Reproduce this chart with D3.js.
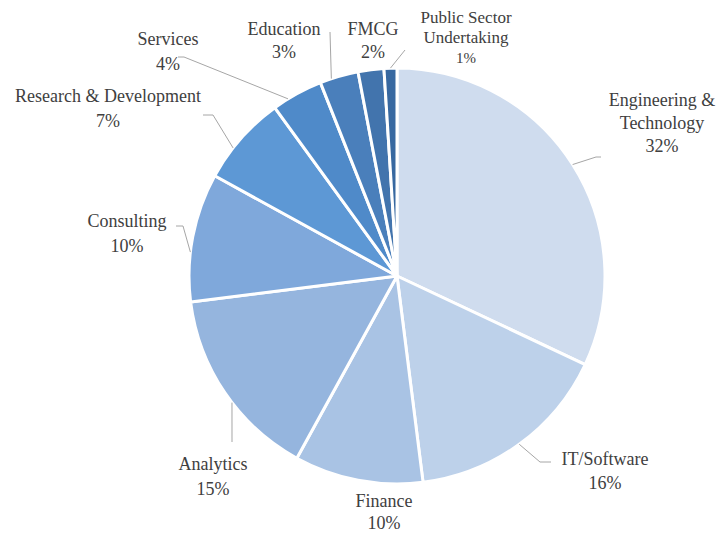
<!DOCTYPE html>
<html><head><meta charset="utf-8">
<script src="https://cdn.jsdelivr.net/npm/d3@7"></script>
<style>
html,body{margin:0;padding:0;background:#fff;}
svg{display:block;}
</style></head>
<body>
<svg id="chart" width="720" height="533"></svg>
<script>
// ---- data ----
const categories = ["Engineering & Technology","IT/Software","Finance","Analytics","Consulting","Research & Development","Services","Education","FMCG","Public Sector Undertaking"];
const values = [32,16,10,15,10,7,4,3,2,1];
const labelLines = [["Engineering &","Technology"],["IT/Software"],["Finance"],["Analytics"],["Consulting"],["Research & Development"],["Services"],["Education"],["FMCG"],["Public Sector","Undertaking"]];
const colors = ["#cfdcee","#bdd1ea","#a9c3e4","#95b5de","#7fa8db","#5d98d5","#4f8ac9","#4a7fbb","#4274ad","#3768a0"];

// ---- layout (label anchor: center x, first baseline y, line height, font size; leader: angle offset deg, then elbow points) ----
const layout = [
  {x:662,y:106,lh:23,fs:18,dA:0,   pts:[[596,157],[601,157]]},
  {x:605,y:465,lh:24,fs:18,dA:0,   pts:[[540,462],[551,462]]},
  {x:384,y:507,lh:22,fs:18,dA:null,pts:[]},
  {x:213,y:470,lh:25,fs:18,dA:-3.3,pts:[[232,442]]},
  {x:127,y:227,lh:25,fs:18,dA:-4.2,pts:[[183,226],[176,226]]},
  {x:108,y:102,lh:25,fs:18,dA:-3.4,pts:[[213,115],[203,115]]},
  {x:168,y:45, lh:25,fs:18,dA:-2.8,pts:[[184,57],[178,57]]},
  {x:284,y:35, lh:23,fs:18,dA:-2.2,pts:[[330,32]]},
  {x:373,y:35, lh:23,fs:18,dA:null,pts:[]},
  {x:466,y:23, lh:20,fs:17,dA:0,   pts:[[405,50]]}
];

const svg = d3.select("#chart");
const cx = 397, cy = 276, R = 208;
const g = svg.append("g").attr("transform",`translate(${cx},${cy})`);

const pie = d3.pie().sort(null).value(d=>d)(values);
const arc = d3.arc().innerRadius(0).outerRadius(R);

g.selectAll("path.slice").data(pie).join("path")
  .attr("class","slice")
  .attr("d",arc)
  .attr("fill",(d,i)=>colors[i])
  .attr("stroke","#fff").attr("stroke-width",3).attr("stroke-linejoin","round");

// leader lines
pie.forEach((d,i)=>{
  const L = layout[i];
  if(L.dA===null) return;
  const a = (d.startAngle+d.endAngle)/2 + L.dA*Math.PI/180;
  const start = [cx + R*Math.sin(a), cy - R*Math.cos(a)];
  const pts = [start].concat(L.pts);
  svg.append("path")
    .attr("d", d3.line()(pts))
    .attr("fill","none").attr("stroke","#a6a6a6").attr("stroke-width",1);
});

// labels
pie.forEach((d,i)=>{
  const L = layout[i];
  const t = svg.append("text").attr("text-anchor","middle")
    .attr("font-family",'"Liberation Serif"')
    .attr("fill","#404040").attr("font-size",L.fs);
  const lines = labelLines[i].concat([values[i]+"%"]);
  lines.forEach((s,k)=>{
    const isPct = k===lines.length-1;
    t.append("tspan").attr("x",L.x).attr("y",L.y+k*L.lh)
      .attr("font-size", (i===9 && isPct)?15:L.fs).text(s);
  });
});
</script>
</body></html>
